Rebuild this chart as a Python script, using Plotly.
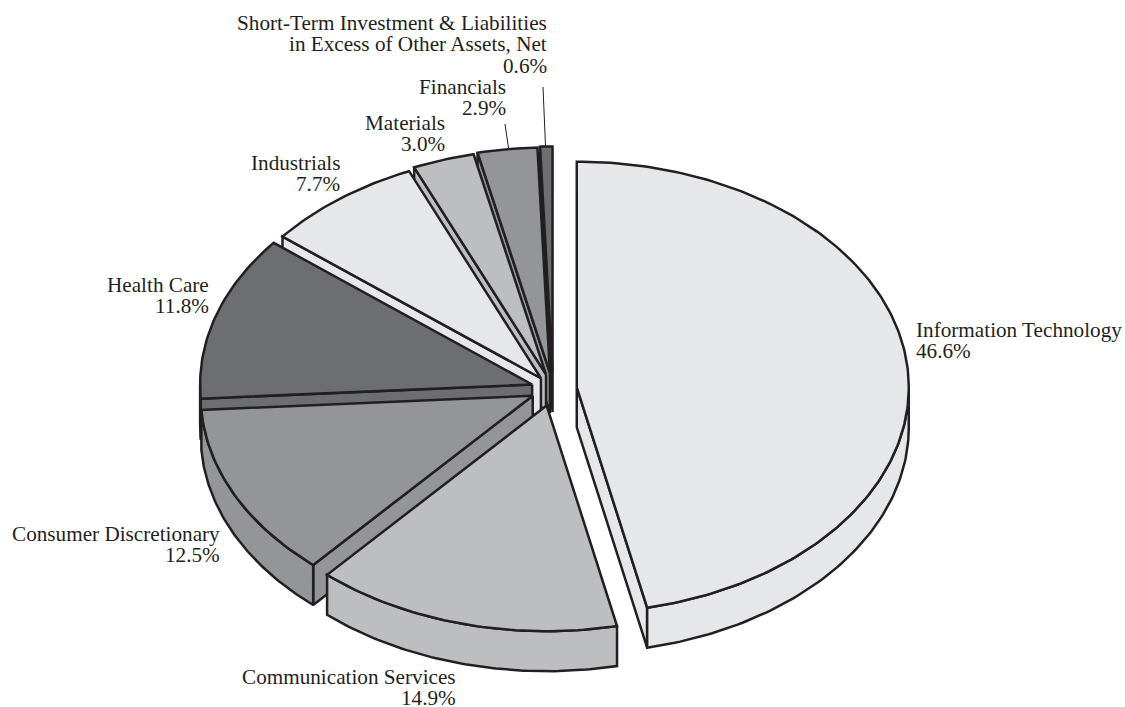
import numpy as np
import plotly.graph_objects as go

# Portfolio sector weights, clockwise from twelve o'clock
sectors = [
    "Information Technology",
    "Communication Services",
    "Consumer Discretionary",
    "Health Care",
    "Industrials",
    "Materials",
    "Financials",
    "Short-Term Investment & Liabilities in Excess of Other Assets, Net",
]
weights = [46.6, 14.9, 12.5, 11.8, 7.7, 3.0, 2.9, 0.6]

# Label lines above each weight
label_lines = [
    ["Information Technology"],
    ["Communication Services"],
    ["Consumer Discretionary"],
    ["Health Care"],
    ["Industrials"],
    ["Materials"],
    ["Financials"],
    ["Short-Term Investment & Liabilities", "in Excess of Other Assets, Net"],
]

# Styling and projection of the tilted disc
fills = ["#e6e7e8", "#bcbec0", "#939598", "#6d6e71", "#e6e7e8", "#bcbec0", "#939598", "#6d6e71"]
pulls = [0.072, 0.076, 0.068, 0.066, 0.060, 0.068, 0.072, 0.075]
label_anchor = [(916, 330, "left"), (456, 677, "right"), (220, 534, "right"), (209, 285, "right"),
                (340, 163, "right"), (445, 123, "right"), (506, 87, "right"), (547, 23, "right")]
LINE_GAP = 21.4
CX, CY, RX, RY, DEPTH = 553.0, 389.0, 332.0, 225.6, 40.0
INK = "#231f20"
FONT = "Liberation Serif"
FONT_SIZE = 21.2
EDGE = 2.5

fig = go.Figure()


def polygon(x, y, fill):
    fig.add_trace(go.Scatter(
        x=np.append(x, x[0]), y=np.append(y, y[0]), mode="lines", fill="toself",
        fillcolor=fill, line=dict(color=INK, width=EDGE), hoverinfo="skip", showlegend=False,
    ))


edges = np.radians(np.concatenate([[0], np.cumsum(weights)]) * 3.6)
order = [7, 6, 5, 4, 3, 2, 0, 1]  # back to front

for i in order:
    t0, t1 = edges[i], edges[i + 1]
    mid = (t0 + t1) / 2
    ox = CX + pulls[i] * RX * np.sin(mid)
    oy = CY - pulls[i] * RY * np.cos(mid)

    def rim(t):
        return ox + RX * np.sin(t), oy - RY * np.cos(t)

    # Radial walls that face the viewer
    for t, visible in ((t0, np.sin(t0) < -1e-9), (t1, np.sin(t1) > 1e-9)):
        if visible:
            ex, ey = rim(t)
            polygon(np.array([ox, ex, ex, ox]), np.array([oy, ey, ey + DEPTH, oy + DEPTH]), fills[i])

    # Outer wall on the near half of the disc
    lo, hi = max(t0, np.pi / 2), min(t1, 3 * np.pi / 2)
    if hi > lo:
        ts = np.linspace(lo, hi, 80)
        rx, ry = rim(ts)
        polygon(np.concatenate([rx, rx[::-1]]), np.concatenate([ry, ry[::-1] + DEPTH]), fills[i])

    # Top face
    ts = np.linspace(t0, t1, max(int((t1 - t0) * 60), 6))
    tx, ty = rim(ts)
    polygon(np.concatenate([[ox], tx]), np.concatenate([[oy], ty]), fills[i])

# Leader lines for the two narrow slices
for lx, ly in (((505, 508.5), (124, 148)), ((543, 545.5), (87, 146))):
    fig.add_trace(go.Scatter(x=lx, y=ly, mode="lines", line=dict(color=INK, width=1),
                             hoverinfo="skip", showlegend=False))

annotations = []
for lines, w, (ax, ay, side) in zip(label_lines, weights, label_anchor):
    for n, text in enumerate(lines + [f"{w:.1f}%"]):
        annotations.append(dict(
            x=ax, y=ay + n * LINE_GAP, text=text, showarrow=False, xref="x", yref="y",
            xanchor=side, yanchor="middle", borderpad=0, borderwidth=0,
            font=dict(family=FONT, size=FONT_SIZE, color=INK),
        ))

fig.update_layout(
    width=1125, height=707, margin=dict(l=0, r=0, t=0, b=0),
    paper_bgcolor="white", plot_bgcolor="white", showlegend=False, annotations=annotations,
    xaxis=dict(range=[0, 1125], visible=False, fixedrange=True),
    yaxis=dict(range=[707, 0], visible=False, fixedrange=True),
)
fig.write_html("out.html", config=dict(displayModeBar=False))
